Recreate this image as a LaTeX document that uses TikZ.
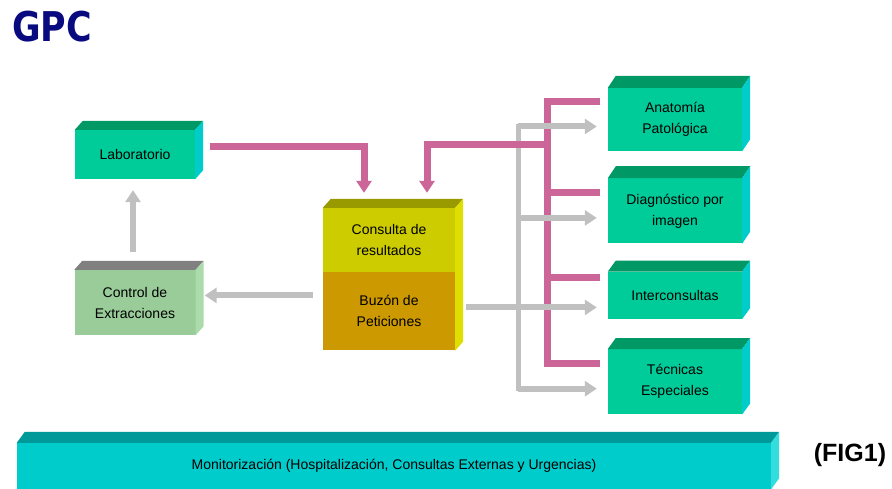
\documentclass[tikz,border=0pt]{standalone}
\usepackage{fontspec}
\setmainfont{Liberation Sans}
\newfontfamily\gpcfont{DejaVu Sans}
\usetikzlibrary{arrows.meta}
\usetikzlibrary{positioning}

\definecolor{greenfront}{HTML}{00CC99}
\definecolor{greentop}{HTML}{009966}
\definecolor{greenside}{HTML}{00CCCC}
\definecolor{ctrlfront}{HTML}{99CC99}
\definecolor{ctrltop}{HTML}{808080}
\definecolor{ctrlside}{HTML}{ABDBAB}
\definecolor{consfront}{HTML}{CCCC00}
\definecolor{constop}{HTML}{999900}
\definecolor{consside}{HTML}{DEDE00}
\definecolor{buzonfront}{HTML}{CC9900}
\definecolor{monfront}{HTML}{00CCCC}
\definecolor{montop}{HTML}{009999}
\definecolor{monside}{HTML}{33DDDD}
\definecolor{pinkc}{HTML}{CC6699}
\definecolor{grayc}{HTML}{C0C0C0}
\definecolor{gpcblue}{HTML}{0A0A80}

\begin{document}
\begin{tikzpicture}[x=1pt,y=-1pt,>={Triangle[width=15pt,length=12pt]},
  box/.style={inner sep=0pt,align=center,font=\fontsize{14}{21}\selectfont},
  green box/.style={box,fill=greenfront,minimum width=134pt},
  pink bar/.style={draw=pinkc,line width=7pt},
  gray bar/.style={draw=grayc,line width=6pt}]

  \useasboundingbox (0,0) rectangle (892,489);

  \node[font=\gpcfont\bfseries\fontsize{41}{41}\selectfont,text=gpcblue,inner sep=0pt,anchor=west] (gpc) at (12,27) {\scalebox{0.85}[1]{GPC}};
  \node[font=\bfseries\fontsize{25}{25}\selectfont] (fig) at (850,455) {(FIG1)};

  \node[green box,minimum width=120pt,minimum height=49pt] (lab) at (135,154.5) {Laboratorio};
  \node[box,fill=ctrlfront,minimum width=121pt,minimum height=65pt] (ctrl) at (135,302.5) {Control de\\Extracciones};
  \node[box,fill=consfront,minimum width=132pt,minimum height=64pt] (cons) at (389,240) {Consulta de\\resultados};
  \node[box,fill=buzonfront,minimum width=132pt,minimum height=78pt,below=0pt of cons] (buzon) {Buzón de\\Peticiones};
  \node[green box,minimum height=63pt] (anat) at (675,119.5) {Anatomía\\Patológica};
  \node[green box,minimum height=65pt,below=27pt of anat] (diag) {Diagnóstico por\\imagen};
  \node[green box,minimum height=47pt,below=28pt of diag] (inter) {Interconsultas};
  \node[green box,minimum height=65pt,below=30pt of inter] (tec) {Técnicas\\Especiales};
  \node[box,fill=monfront,minimum width=754pt,minimum height=46pt] (mon) at (394,466) {Monitorización (Hospitalización, Consultas Externas y Urgencias)};

  % top and side faces
  \foreach \n/\t/\s/\d in {lab/greentop/greenside/9, ctrl/ctrltop/ctrlside/9,
      anat/greentop/greenside/12, diag/greentop/greenside/12, inter/greentop/greenside/11,
      tec/greentop/greenside/11, mon/montop/monside/11}
  {
    \fill[\t] (\n.north west) -- ++(8,-\d) -- ([xshift=8pt,yshift=\d pt]\n.north east) -- (\n.north east) -- cycle;
    \fill[\s] (\n.north east) -- ++(8,-\d) -- ([xshift=8pt,yshift=\d pt]\n.south east) -- (\n.south east) -- cycle;
  }
  \fill[constop] (cons.north west) -- ++(8,-9) -- ([xshift=8pt,yshift=9pt]cons.north east) -- (cons.north east) -- cycle;
  \fill[consside] (cons.north east) -- ++(8,-9) -- ([xshift=8pt,yshift=9pt]buzon.south east) -- (buzon.south east) -- cycle;

  \coordinate (gx) at (518,0);
  \coordinate (px) at (547,0);

  % gray trunk
  \draw[gray bar,line width=5pt,line cap=rect] ([yshift=-7pt]anat.west -| gx) -- ([yshift=-7pt]tec.west -| gx);

  % pink
  \draw[pink bar,->] ([xshift=15pt,yshift=8pt]lab.east) coordinate (lp) -| ([xshift=-25pt,yshift=15pt]cons.north);
  \foreach \n in {anat,diag,inter,tec}
    \draw[pink bar] ([xshift=-8pt,yshift=18pt]\n.west) -- ([yshift=18pt]\n.west -| px);
  \draw[pink bar,line cap=rect] ([yshift=18pt]anat.west -| px) -- ([yshift=18pt]tec.west -| px);
  \draw[pink bar,->] ([yshift=2pt]lp -| px) -| ([xshift=38pt,yshift=15pt]cons.north);

  % gray
  \foreach \n in {anat,diag,tec}
    \draw[gray bar,->] ([yshift=-7pt]\n.west -| gx) -- ([xshift=-11pt,yshift=-7pt]\n.west);
  \draw[gray bar,->] ([xshift=11pt,yshift=4pt]buzon.east) coordinate (bz) -- ([xshift=-11pt]bz -| inter.west);
  \draw[gray bar,->] ([xshift=-10pt,yshift=16pt]buzon.west) coordinate (bw) -- ([xshift=9pt]bw -| ctrl.east);
  \draw[gray bar,->] ([xshift=-2pt,yshift=18pt]ctrl.north) -- ([xshift=-2pt,yshift=-11pt]lab.south);
\end{tikzpicture}
\end{document}
